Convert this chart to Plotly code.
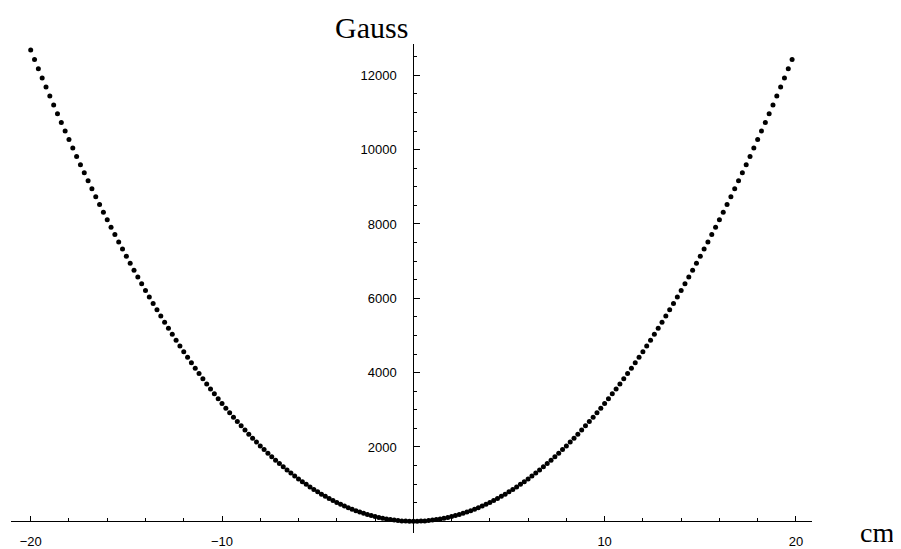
import plotly.graph_objects as go

# sample positions (cm)
x_cm = [
    -20.0, -19.8, -19.6, -19.4, -19.2, -19.0, -18.8, -18.6, -18.4, -18.2,
    -18.0, -17.8, -17.6, -17.4, -17.2, -17.0, -16.8, -16.6, -16.4, -16.2,
    -16.0, -15.8, -15.6, -15.4, -15.2, -15.0, -14.8, -14.6, -14.4, -14.2,
    -14.0, -13.8, -13.6, -13.4, -13.2, -13.0, -12.8, -12.6, -12.4, -12.2,
    -12.0, -11.8, -11.6, -11.4, -11.2, -11.0, -10.8, -10.6, -10.4, -10.2,
    -10.0, -9.8, -9.6, -9.4, -9.2, -9.0, -8.8, -8.6, -8.4, -8.2,
    -8.0, -7.8, -7.6, -7.4, -7.2, -7.0, -6.8, -6.6, -6.4, -6.2,
    -6.0, -5.8, -5.6, -5.4, -5.2, -5.0, -4.8, -4.6, -4.4, -4.2,
    -4.0, -3.8, -3.6, -3.4, -3.2, -3.0, -2.8, -2.6, -2.4, -2.2,
    -2.0, -1.8, -1.6, -1.4, -1.2, -1.0, -0.8, -0.6, -0.4, -0.2,
    0.0, 0.2, 0.4, 0.6, 0.8, 1.0, 1.2, 1.4, 1.6, 1.8,
    2.0, 2.2, 2.4, 2.6, 2.8, 3.0, 3.2, 3.4, 3.6, 3.8,
    4.0, 4.2, 4.4, 4.6, 4.8, 5.0, 5.2, 5.4, 5.6, 5.8,
    6.0, 6.2, 6.4, 6.6, 6.8, 7.0, 7.2, 7.4, 7.6, 7.8,
    8.0, 8.2, 8.4, 8.6, 8.8, 9.0, 9.2, 9.4, 9.6, 9.8,
    10.0, 10.2, 10.4, 10.6, 10.8, 11.0, 11.2, 11.4, 11.6, 11.8,
    12.0, 12.2, 12.4, 12.6, 12.8, 13.0, 13.2, 13.4, 13.6, 13.8,
    14.0, 14.2, 14.4, 14.6, 14.8, 15.0, 15.2, 15.4, 15.6, 15.8,
    16.0, 16.2, 16.4, 16.6, 16.8, 17.0, 17.2, 17.4, 17.6, 17.8,
    18.0, 18.2, 18.4, 18.6, 18.8, 19.0, 19.2, 19.4, 19.6, 19.8,
]

# field values (Gauss)
gauss = [
    12680, 12428, 12178, 11931, 11686, 11444, 11204, 10967, 10732, 10500,
    10271, 10044, 9819, 9597, 9378, 9161, 8947, 8735, 8526, 8319,
    8115, 7914, 7715, 7518, 7324, 7133, 6944, 6757, 6573, 6392,
    6213, 6037, 5863, 5692, 5523, 5357, 5194, 5033, 4874, 4718,
    4565, 4414, 4266, 4120, 3976, 3836, 3697, 3562, 3429, 3298,
    3170, 3044, 2921, 2801, 2683, 2568, 2455, 2345, 2237, 2132,
    2029, 1929, 1831, 1736, 1643, 1553, 1466, 1381, 1298, 1219,
    1141, 1066, 994, 924, 857, 793, 730, 671, 614, 559,
    507, 458, 411, 366, 325, 285, 249, 214, 183, 153,
    127, 103, 81, 62, 46, 32, 20, 11, 5, 1,
    0, 1, 5, 11, 20, 32, 46, 62, 81, 103,
    127, 153, 183, 214, 249, 285, 325, 366, 411, 458,
    507, 559, 614, 671, 730, 793, 857, 924, 994, 1066,
    1141, 1219, 1298, 1381, 1466, 1553, 1643, 1736, 1831, 1929,
    2029, 2132, 2237, 2345, 2455, 2568, 2683, 2801, 2921, 3044,
    3170, 3298, 3429, 3562, 3697, 3836, 3976, 4120, 4266, 4414,
    4565, 4718, 4874, 5033, 5194, 5357, 5523, 5692, 5863, 6037,
    6213, 6392, 6573, 6757, 6944, 7133, 7324, 7518, 7715, 7914,
    8115, 8319, 8526, 8735, 8947, 9161, 9378, 9597, 9819, 10044,
    10271, 10500, 10732, 10967, 11204, 11444, 11686, 11931, 12178, 12428,
]

x_tickvals = [-20, -10, 0, 10, 20]
x_ticktext = ["\u221220", "\u221210", "", "10", "20"]
y_tickvals = [0, 2000, 4000, 6000, 8000, 10000, 12000]
y_ticktext = ["", "2000", "4000", "6000", "8000", "10000", "12000"]

x_range = [-21.03, 20.84]
y_range = [-315, 12843]

x_axis_pos = (0 - y_range[0]) / (y_range[1] - y_range[0])
y_axis_pos = (0 - x_range[0]) / (x_range[1] - x_range[0])

fig = go.Figure()
fig.add_trace(go.Scatter(
    x=x_cm, y=gauss, mode="markers",
    marker=dict(color="black", size=5, line=dict(width=0)),
    showlegend=False, hoverinfo="skip",
))

tickfont = dict(family="Liberation Sans, Arial, sans-serif", size=13, color="black")
titlefont = dict(family="Liberation Serif, Times New Roman, serif", size=30, color="black")
cmfont = dict(family="Liberation Serif, Times New Roman, serif", size=28, color="black")

fig.update_layout(
    width=893, height=541,
    margin=dict(l=3, r=89, t=36, b=16),
    paper_bgcolor="white", plot_bgcolor="white",
    xaxis=dict(
        range=x_range, anchor="free", position=x_axis_pos, automargin=False,
        showgrid=False, zeroline=False,
        showline=True, linecolor="black", linewidth=1,
        tickmode="array", tickvals=x_tickvals, ticktext=x_ticktext,
        ticks="inside", ticklen=5, tickwidth=1, tickcolor="black",
        tickfont=tickfont, ticklabelstandoff=8,
        minor=dict(tickmode="linear", tick0=0, dtick=2, ticks="inside",
                   ticklen=3, tickwidth=1, tickcolor="black", showgrid=False),
    ),
    yaxis=dict(
        range=y_range, anchor="free", position=y_axis_pos, automargin=False,
        showgrid=False, zeroline=False,
        showline=True, linecolor="black", linewidth=1,
        tickmode="array", tickvals=y_tickvals, ticktext=y_ticktext,
        ticks="inside", ticklen=6, tickwidth=1, tickcolor="black",
        tickfont=tickfont, ticklabelstandoff=14,
        minor=dict(tickmode="linear", tick0=0, dtick=500, ticks="inside",
                   ticklen=3, tickwidth=1, tickcolor="black", showgrid=False),
    ),
    annotations=[
        dict(text="Gauss", x=0, xref="x", y=1, yref="paper",
             xanchor="right", yanchor="bottom", xshift=-3, yshift=-2,
             showarrow=False, font=titlefont),
        dict(text="cm", x=1, xref="paper", y=0, yref="y",
             xanchor="left", yanchor="top", xshift=46, yshift=6,
             showarrow=False, font=cmfont),
    ],
)

fig.write_html("out.html")
